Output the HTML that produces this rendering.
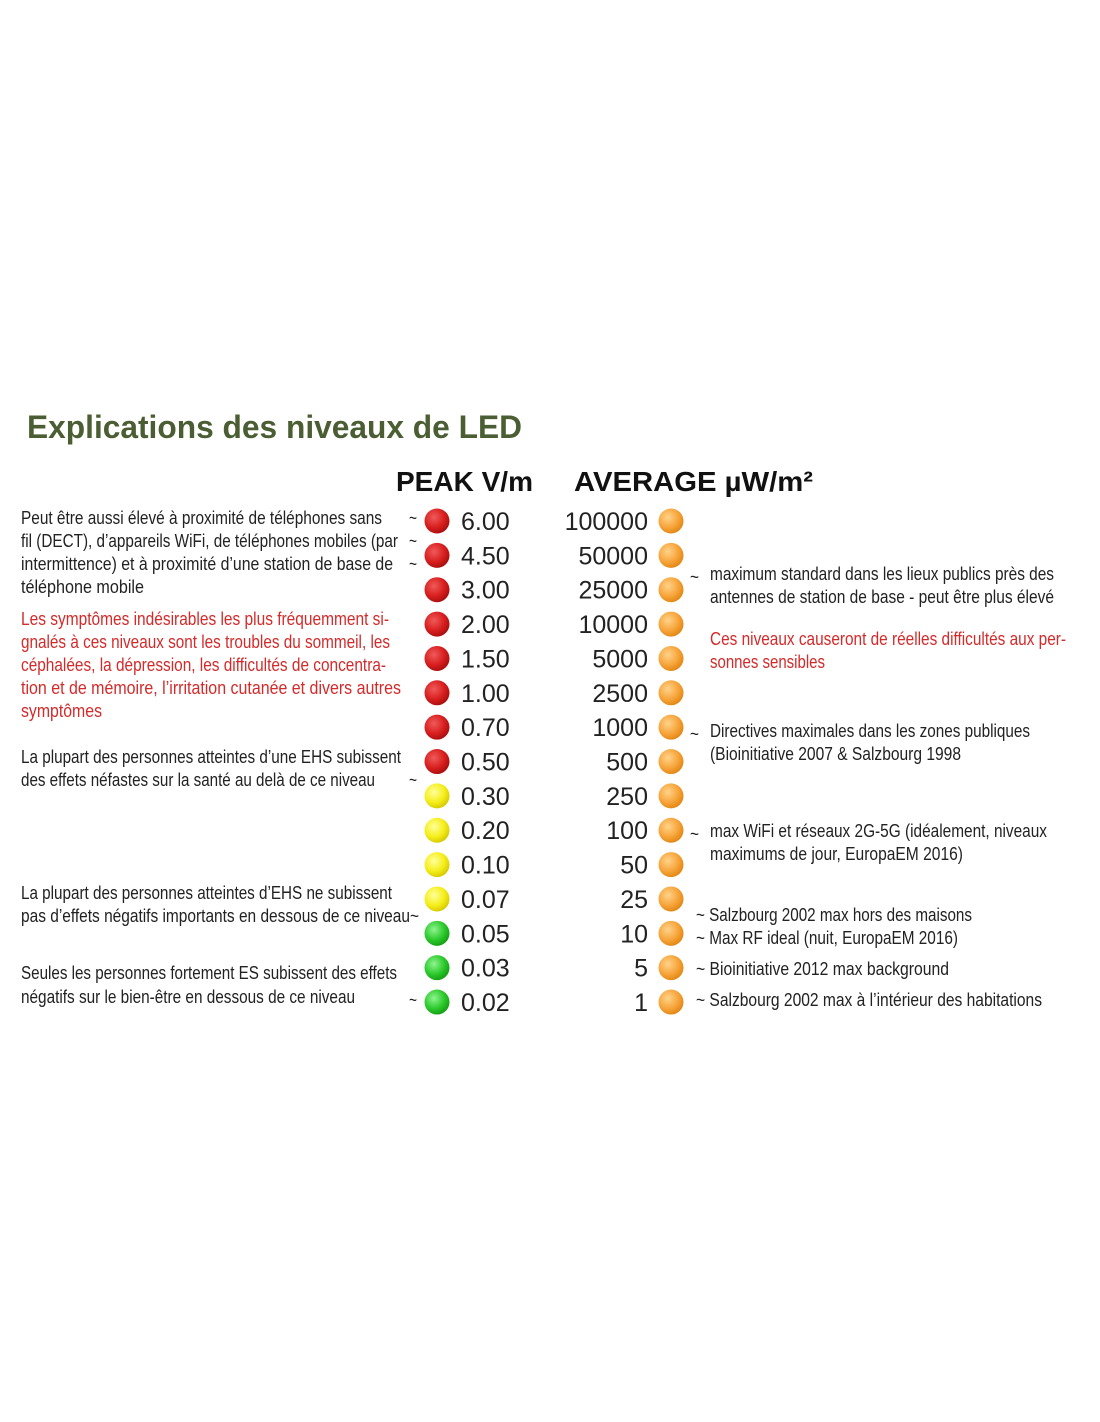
<!DOCTYPE html>
<html><head><meta charset="utf-8"><style>
html,body{margin:0;padding:0;background:#fff;width:1100px;height:1422px;overflow:hidden}
svg text{font-family:"Liberation Sans",sans-serif}
</style></head><body>
<svg id="chart" width="1100" height="1422" viewBox="0 0 1100 1422" xmlns="http://www.w3.org/2000/svg">
<defs>
<radialGradient id="gRed" cx="0.38" cy="0.35" r="0.7"><stop offset="0" stop-color="#f05a5a"/><stop offset="0.6" stop-color="#d81e1e"/><stop offset="1" stop-color="#a50d0d"/></radialGradient>
<radialGradient id="gYel" cx="0.38" cy="0.35" r="0.7"><stop offset="0" stop-color="#ffff9a"/><stop offset="0.6" stop-color="#f5ee1a"/><stop offset="1" stop-color="#d4c600"/></radialGradient>
<radialGradient id="gGrn" cx="0.38" cy="0.35" r="0.7"><stop offset="0" stop-color="#8ef58e"/><stop offset="0.6" stop-color="#2cc92c"/><stop offset="1" stop-color="#139a13"/></radialGradient>
<radialGradient id="gOra" cx="0.38" cy="0.35" r="0.7"><stop offset="0" stop-color="#ffd38a"/><stop offset="0.6" stop-color="#f7a43a"/><stop offset="1" stop-color="#e08410"/></radialGradient>
</defs>
<text x="27" y="438" font-size="32" font-weight="bold" fill="#4b5e33" textLength="495" lengthAdjust="spacingAndGlyphs">Explications des niveaux de LED</text>
<text x="396" y="491" font-size="28" font-weight="bold" fill="#111" textLength="137" lengthAdjust="spacingAndGlyphs">PEAK V/m</text>
<text x="574" y="491" font-size="28" font-weight="bold" fill="#111" textLength="239" lengthAdjust="spacingAndGlyphs">AVERAGE µW/m²</text>
<g id="rows"></g>
<g id="notes"></g>
</svg>
<script>
const peakLabels=["6.00","4.50","3.00","2.00","1.50","1.00","0.70","0.50","0.30","0.20","0.10","0.07","0.05","0.03","0.02"];
const avgLabels=["100000","50000","25000","10000","5000","2500","1000","500","250","100","50","25","10","5","1"];
const peakLevel=["red","red","red","red","red","red","red","red","yellow","yellow","yellow","yellow","green","green","green"];
const rowY=i=>521+i*34.36;
const fills={red:"url(#gRed)",yellow:"url(#gYel)",green:"url(#gGrn)"};
const NS="http://www.w3.org/2000/svg";
const rows=document.getElementById("rows");
function mk(tag,attrs,txt){const e=document.createElementNS(NS,tag);for(const k in attrs)e.setAttribute(k,attrs[k]);if(txt!==undefined)e.textContent=txt;return e;}
peakLabels.forEach((p,i)=>{
  const y=rowY(i);
  const c=mk("circle",{cx:437,cy:y,r:12.5,fill:fills[peakLevel[i]]});
  
  
  rows.appendChild(c);
  const t=mk("text",{x:461,y:y+9,"font-size":25,fill:"#222","font-family":"DejaVu Sans, sans-serif"},p);
  
  
  rows.appendChild(t);
  const a=avgLabels[i];
  const c2=mk("circle",{cx:671,cy:y,r:12.5,fill:"url(#gOra)"});
  
  
  rows.appendChild(c2);
  const t2=mk("text",{x:648,y:y+9,"font-size":25,fill:"#222","text-anchor":"end","font-family":"DejaVu Sans, sans-serif"},a);
  
  
  rows.appendChild(t2);
});
const notes=[
 [21,518,361,"#222","Peut être aussi élevé à proximité de téléphones sans"],
 [21,541,377,"#222","fil (DECT), d’appareils WiFi, de téléphones mobiles (par"],
 [21,564,372,"#222","intermittence) et à proximité d’une station de base de"],
 [21,587,123,"#222","téléphone mobile"],
 [21,619,368,"#d42a2a","Les symptômes indésirables les plus fréquemment si-"],
 [21,642,369,"#d42a2a","gnalés à ces niveaux sont les troubles du sommeil, les"],
 [21,665,365,"#d42a2a","céphalées, la dépression, les difficultés de concentra-"],
 [21,688,380,"#d42a2a","tion et de mémoire, l’irritation cutanée et divers autres"],
 [21,711,81,"#d42a2a","symptômes"],
 [21,757,380,"#222","La plupart des personnes atteintes d’une EHS subissent"],
 [21,780,354,"#222","des effets néfastes sur la santé au delà de ce niveau"],
 [21,893,371,"#222","La plupart des personnes atteintes d’EHS ne subissent"],
 [21,916,398,"#222","pas d’effets négatifs importants en dessous de ce niveau~"],
 [21,973,376,"#222","Seules les personnes fortement ES subissent des effets"],
 [21,997,334,"#222","négatifs sur le bien-être en dessous de ce niveau"],
 [710,574,344,"#222","maximum standard dans les lieux publics près des"],
 [710,597,344,"#222","antennes de station de base - peut être plus élevé"],
 [710,639,356,"#d42a2a","Ces niveaux causeront de réelles difficultés aux per-"],
 [710,662,115,"#d42a2a","sonnes sensibles"],
 [710,731,320,"#222","Directives maximales dans les zones publiques"],
 [710,754,251,"#222","(Bioinitiative 2007 & Salzbourg 1998"],
 [710,831,337,"#222","max WiFi et réseaux 2G-5G (idéalement, niveaux"],
 [710,854,253,"#222","maximums de jour, EuropaEM 2016)"],
 [696,915,276,"#222","~ Salzbourg 2002 max hors des maisons"],
 [696,938,262,"#222","~ Max RF ideal (nuit, EuropaEM 2016)"],
 [696,969,253,"#222","~ Bioinitiative 2012 max background"],
 [696,1000,346,"#222","~ Salzbourg 2002 max à l’intérieur des habitations"],
 [409,518,8,"#222","~"],[409,541,8,"#222","~"],[409,564,8,"#222","~"],[409,780,8,"#222","~"],[409,1000,8,"#222","~"],
 [690,577,9,"#222","~"],[690,734,9,"#222","~"],[690,834,9,"#222","~"]
];
const ng=document.getElementById("notes");
notes.forEach((n,i)=>{
  const t=mk("text",{x:n[0],y:n[1]+6,"font-size":18,fill:n[3],textLength:n[2],lengthAdjust:"spacingAndGlyphs"},n[4]);
  
  
  ng.appendChild(t);
});
</script>
</body></html>
